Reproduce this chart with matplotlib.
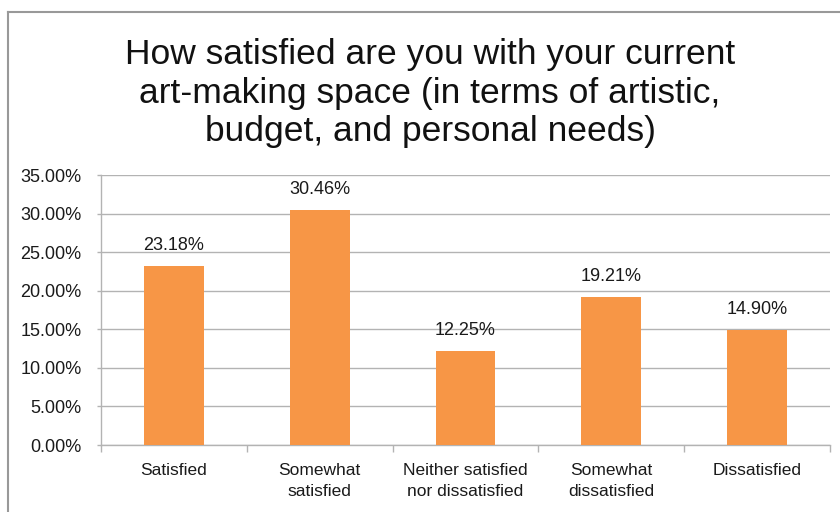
import numpy as np
import matplotlib
matplotlib.use('Agg')
import matplotlib.pyplot as plt
from matplotlib.ticker import FuncFormatter, FixedLocator
from matplotlib.lines import Line2D

categories = ['Satisfied', 'Somewhat\nsatisfied', 'Neither satisfied\nnor dissatisfied',
              'Somewhat\ndissatisfied', 'Dissatisfied']
shares = [23.18, 30.46, 12.25, 19.21, 14.90]
yticks = [0, 5, 10, 15, 20, 25, 30, 35]
title = ('How satisfied are you with your current\n'
         'art-making space (in terms of artistic,\n'
         'budget, and personal needs)')

plt.rcParams['font.family'] = ['Liberation Sans', 'DejaVu Sans']

BAR = '#F79646'
GRID = '#b3b3b3'
TXT = '#1a1a1a'

fig = plt.figure(figsize=(8.4, 5.12), dpi=100)
ax = fig.add_axes([101 / 840, 1 - 445 / 512, 729 / 840, 270 / 512])

x = np.arange(len(categories))
ax.bar(x, shares, width=0.41, color=BAR, zorder=3)

for xi, v in zip(x, shares):
    ax.annotate(f'{v:.2f}%', (xi, v), xytext=(0, 11.5), textcoords='offset points',
                ha='center', va='baseline', fontsize=13, color=TXT)

ax.set_ylim(0, 35)
ax.set_xlim(-0.5, len(categories) - 0.5)
ax.set_yticks(yticks)
ax.yaxis.set_major_formatter(FuncFormatter(lambda v, p: f'{v:.2f}%'))
ax.grid(axis='y', color=GRID, linewidth=1.0, zorder=0)
ax.tick_params(axis='y', length=3, width=1, color=GRID, pad=11, labelsize=13,
               labelcolor=TXT)

ax.set_xticks(x)
ax.set_xticklabels(categories, fontsize=12.5, color=TXT, linespacing=1.5)
ax.tick_params(axis='x', which='major', length=0, pad=13)
ax.xaxis.set_minor_locator(FixedLocator(np.arange(-0.5, len(categories), 1.0)))
ax.tick_params(axis='x', which='minor', length=5, width=1, color=GRID)

for side in ['top', 'right']:
    ax.spines[side].set_visible(False)
for side in ['left', 'bottom']:
    ax.spines[side].set_color(GRID)
    ax.spines[side].set_linewidth(1.0)

fig.text(0.512, 1 - 93 / 512, title, ha='center', va='center', fontsize=25.5,
         linespacing=1.22, color='#111111')

# chart frame edges (only top and left fall inside the image)
fig.add_artist(Line2D([8 / 840, 8 / 840], [0, 1 - 12 / 512], transform=fig.transFigure,
                      color='#999999', linewidth=1.5))
fig.add_artist(Line2D([8 / 840, 1], [1 - 12 / 512, 1 - 12 / 512], transform=fig.transFigure,
                      color='#999999', linewidth=1.5))

fig.savefig('out.png', dpi=100)
